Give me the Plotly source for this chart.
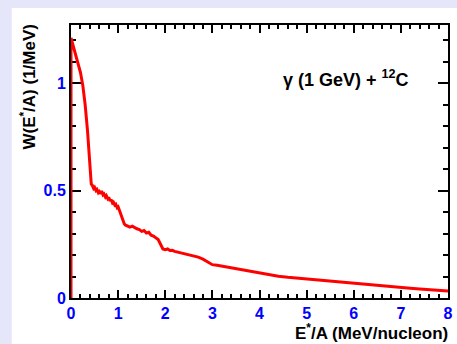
import plotly.graph_objects as go

# E*/A (MeV/nucleon) and W(E*/A) (1/MeV)
e_star = [0.0, 0.0, 0.05, 0.10, 0.15, 0.20, 0.25, 0.30, 0.35, 0.40, 0.43, 0.45, 0.48, 0.50,
          0.53, 0.55, 0.58, 0.60, 0.63, 0.65, 0.68, 0.70, 0.73, 0.75, 0.78, 0.80, 0.83,
          0.85, 0.88, 0.90, 0.93, 0.95, 0.98, 1.00, 1.03, 1.05, 1.08, 1.10, 1.13, 1.15,
          1.20, 1.25, 1.30, 1.35, 1.40, 1.45, 1.50, 1.55, 1.60, 1.65, 1.70, 1.75, 1.80,
          1.85, 1.90, 1.95, 2.00, 2.05, 2.10, 2.15, 2.20, 2.30, 2.40, 2.50, 2.60, 2.70,
          2.80, 2.90, 3.00, 3.10, 3.20, 3.30, 3.40, 3.50, 3.60, 3.70, 3.80, 3.90, 4.00,
          4.20, 4.40, 4.60, 4.80, 5.00, 5.20, 5.40, 5.60, 5.80, 6.00, 6.20, 6.40, 6.60,
          6.80, 7.00, 7.20, 7.40, 7.60, 7.80, 8.00]
w_val = [0.0, 1.21, 1.17, 1.13, 1.09, 1.05, 0.99, 0.90, 0.78, 0.63, 0.53, 0.525, 0.51, 0.515,
         0.50, 0.505, 0.49, 0.495, 0.485, 0.498, 0.48, 0.484, 0.47, 0.476, 0.462, 0.468, 0.452,
         0.458, 0.442, 0.446, 0.432, 0.436, 0.42, 0.424, 0.405, 0.40, 0.38, 0.365, 0.345, 0.34,
         0.336, 0.33, 0.334, 0.326, 0.322, 0.318, 0.31, 0.314, 0.302, 0.306, 0.292, 0.288, 0.28,
         0.272, 0.25, 0.228, 0.225, 0.228, 0.221, 0.222, 0.217, 0.212, 0.206, 0.201, 0.195, 0.19,
         0.181, 0.168, 0.155, 0.152, 0.148, 0.143, 0.14, 0.135, 0.131, 0.127, 0.123, 0.118, 0.115,
         0.108, 0.101, 0.096, 0.092, 0.087, 0.082, 0.078, 0.074, 0.070, 0.066, 0.062, 0.058, 0.055,
         0.052, 0.049, 0.045, 0.042, 0.039, 0.036, 0.033]

x_ticks = [0, 1, 2, 3, 4, 5, 6, 7, 8]
y_ticks = [0, 0.5, 1]
y_tick_text = ["0", "0.5", "1"]

FONT = "Liberation Sans, Arial, Helvetica, sans-serif"
BLUE = "#0000ff"

fig = go.Figure()
fig.add_trace(go.Scatter(x=e_star, y=w_val, mode="lines",
                         line=dict(color="#ff0000", width=3), showlegend=False))

L, R, T, B = 71, 4, 25, 46
W, H = 457, 344
pw, ph = W - L - R, H - T - B

fig.add_shape(type="rect", xref="paper", yref="paper",
              x0=(11 - L) / pw, x1=(W - L) / pw + 0.02,
              y0=-(B + 2) / ph, y1=(ph + T - 8) / ph,
              fillcolor="white", line=dict(width=0), layer="below")

axis_common = dict(
    showgrid=False, zeroline=False, showline=True, linecolor="black", linewidth=2,
    mirror="allticks", ticks="inside", tickcolor="black", tickwidth=2,
    tickfont=dict(family=FONT, size=16, color=BLUE, weight="bold"),
)

fig.update_xaxes(range=[0, 8], tickvals=x_ticks, ticklen=8,
                 minor=dict(dtick=0.2, ticklen=4, tickwidth=1.5, tickcolor="black", ticks="inside"),
                 **axis_common)
fig.update_yaxes(range=[0, 1.27], tickvals=y_ticks, ticktext=y_tick_text, ticklen=10,
                 minor=dict(dtick=0.1, ticklen=5, tickwidth=1.5, tickcolor="black", ticks="inside"),
                 layer="below traces", **axis_common)

fig.add_annotation(xref="paper", yref="paper", x=(455 - L) / pw, y=-(332 - (T + ph)) / ph,
                   text="E<sup>*</sup>/A (MeV/nucleon)", showarrow=False,
                   xanchor="right", yanchor="middle",
                   font=dict(family=FONT, size=17, color="black", weight="bold"))
fig.add_annotation(xref="paper", yref="paper", x=-(L - 27) / pw, y=(T + ph - 87) / ph,
                   text="W(E<sup>*</sup>/A) (1/MeV)", showarrow=False, textangle=-90,
                   xanchor="center", yanchor="middle",
                   font=dict(family=FONT, size=17, color="black", weight="bold"))
fig.add_annotation(xref="paper", yref="paper", x=(350 - L) / pw, y=(T + ph - 78) / ph,
                   text="γ (1 GeV) + <sup>12</sup>C", showarrow=False,
                   xanchor="center", yanchor="middle",
                   font=dict(family=FONT, size=18, color="black", weight="bold"))

fig.update_layout(width=W, height=H, margin=dict(l=L, r=R, t=T, b=B),
                  paper_bgcolor="#e6e6fa", plot_bgcolor="white",
                  font=dict(family=FONT))
fig.write_html("out.html")
